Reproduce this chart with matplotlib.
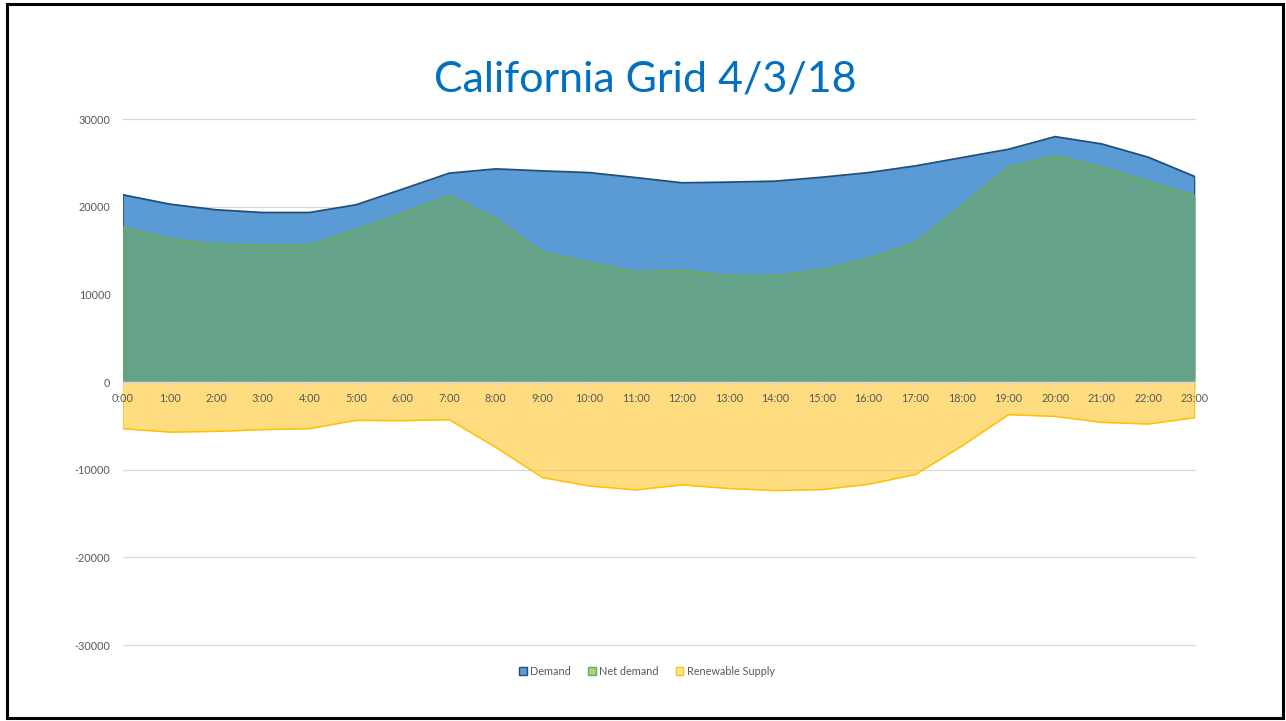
import numpy as np
import matplotlib.pyplot as plt
from matplotlib.patches import Patch, Rectangle

plt.rcParams['font.family'] = ['Lato', 'DejaVu Sans']
plt.rcParams['axes.unicode_minus'] = False

hours = ['0:00', '1:00', '2:00', '3:00', '4:00', '5:00', '6:00', '7:00', '8:00', '9:00',
         '10:00', '11:00', '12:00', '13:00', '14:00', '15:00', '16:00', '17:00', '18:00',
         '19:00', '20:00', '21:00', '22:00', '23:00']

demand = [21380, 20320, 19670, 19360, 19360, 20240, 22030, 23850, 24340, 24110,
          23920, 23350, 22750, 22830, 22940, 23390, 23920, 24680, 25630,
          26580, 28020, 27190, 25670, 23460]

net_demand = [17700, 16330, 15760, 15650, 15650, 17390, 19290, 21270, 18610, 14850,
              13670, 12570, 12760, 12150, 12150, 12840, 14060, 15880, 20160,
              24490, 25860, 24490, 22890, 21270]

renewable = [-5310, -5700, -5620, -5420, -5310, -4360, -4400, -4280, -7440, -10890,
             -11850, -12300, -11730, -12140, -12370, -12260, -11650, -10550, -7290,
             -3710, -3910, -4590, -4780, -4050]

x = np.arange(len(hours))

fig = plt.figure(figsize=(12.86, 7.21), dpi=100)
ax = fig.add_axes([0.0956, 0.1054, 0.8336, 0.7291])

grey_txt = '#595959'

# gridlines
for v in [-30000, -20000, -10000, 10000, 20000, 30000]:
    ax.axhline(v, color='#D9D9D9', lw=0.9, zorder=0, clip_on=False)


def outline(vals, color, lw, z):
    xs = np.concatenate([[0], x, [x[-1]]])
    ys = np.concatenate([[0], vals, [0]])
    ax.plot(xs, ys, color=color, lw=lw, zorder=z, solid_joinstyle='miter')


ax.fill_between(x, 0, demand, color='#5B9BD5', lw=0, zorder=1)
outline(demand, '#1F4E79', 1.3, 1.5)

ax.fill_between(x, 0, net_demand, color='#65A28A', lw=0, zorder=2)
outline(net_demand, '#70AD47', 1.1, 2.5)

ax.fill_between(x, 0, renewable, color='#FFC52A', alpha=0.6, lw=0, zorder=3)
outline(renewable, '#FFC000', 1.1, 3.5)

ax.set_xlim(0, 23)
ax.set_ylim(-30000, 30000)
ax.set_yticks([-30000, -20000, -10000, 0, 10000, 20000, 30000])
ax.set_xticks(x)
ax.set_xticklabels(hours)

for s in ['top', 'right', 'left']:
    ax.spines[s].set_visible(False)
ax.spines['bottom'].set_position(('data', 0))
ax.spines['bottom'].set_color('#D9D9D9')
ax.spines['bottom'].set_linewidth(1.0)
ax.spines['bottom'].set_zorder(4)
ax.xaxis.set_zorder(5)

ax.tick_params(axis='x', direction='out', length=4, color='#D9D9D9', labelsize=7.8,
               labelcolor=grey_txt, pad=4)
ax.tick_params(axis='y', length=0, labelsize=7.8, labelcolor=grey_txt, pad=9)

fig.text(0.502, 0.89, 'California Grid 4/3/18', ha='center', va='center',
         fontsize=31, color='#0070C0')

handles = [Patch(facecolor='#5B9BD5', edgecolor='#1F4E79', label='Demand'),
           Patch(facecolor='#A9D18E', edgecolor='#70AD47', label='Net demand'),
           Patch(facecolor='#FFE699', edgecolor='#FFC000', label='Renewable Supply')]
leg = fig.legend(handles=handles, loc='center', bbox_to_anchor=(0.503, 0.069), ncol=3,
                 frameon=False, fontsize=7.8, handlelength=0.7, handleheight=0.7,
                 handletextpad=0.3, columnspacing=1.6)
for t in leg.get_texts():
    t.set_color(grey_txt)

fig.patches.append(Rectangle((0.0055, 0.004), 0.9925, 0.99, transform=fig.transFigure,
                             fill=False, edgecolor='black', lw=2.2))

fig.savefig('out.png', dpi=100)
